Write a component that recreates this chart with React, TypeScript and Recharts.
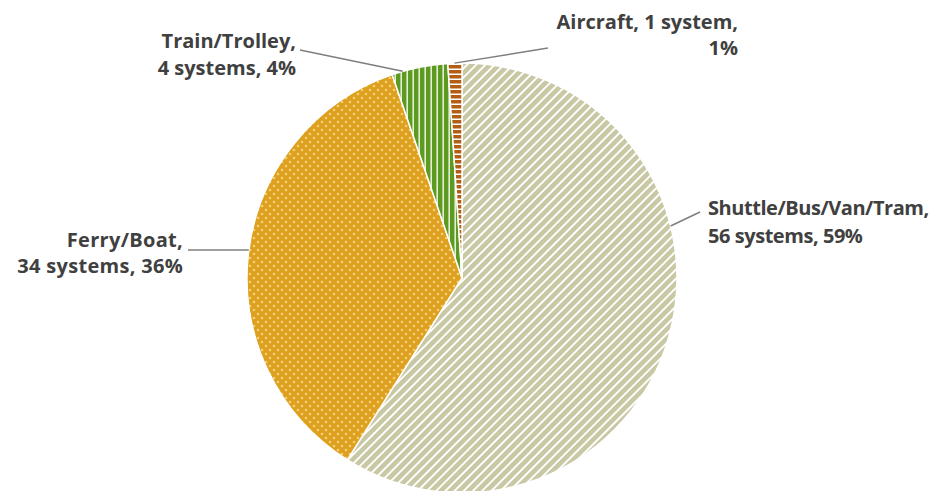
import React from 'react';
import { PieChart, Pie, Cell } from 'recharts';

const modes = ['Shuttle/Bus/Van/Tram', 'Ferry/Boat', 'Train/Trolley', 'Aircraft'];
const systems = [56, 34, 4, 1];
const percents = ['59%', '36%', '4%', '1%'];

const data = modes.map((name, i) => ({ name, value: systems[i], pct: percents[i] }));

const FILLS = ['url(#pShuttle)', 'url(#pFerry)', 'url(#pTrain)', 'url(#pAir)'];

// label placement relative to pie centre (Excel-style manual placement)
// edge: angle on rim, clockwise from 12 o'clock; end: leader line end; rows: text + baseline
const LABEL_LAYOUT = [
  { edge: 76, end: [238, -66], anchor: 'start', x: 246, ls: -0.45, rows: [['Shuttle/Bus/Van/Tram,', -63], ['56 systems, 59%', -35]] },
  { edge: 277.5, end: [-274, -28], anchor: 'end', x: -279, ls: 0.3, rows: [['Ferry/Boat,', -31], ['34 systems, 36%', -5]] },
  { edge: 344, end: [-162, -228], anchor: 'end', x: -166, ls: 0, rows: [['Train/Trolley,', -230], ['4 systems, 4%', -203]] },
  { edge: 358, end: [86, -230], anchor: 'end', x: 276, ls: 0, rows: [['Aircraft, 1 system,', -249], ['1%', -223]] },
];

const renderLabel = (props: any) => {
  const { cx, cy, outerRadius, index } = props;
  const l = LABEL_LAYOUT[index];
  const rad = (l.edge * Math.PI) / 180;
  const sx = cx + outerRadius * Math.sin(rad);
  const sy = cy - outerRadius * Math.cos(rad);
  return (
    <g key={`lbl-${index}`}>
      <line x1={sx} y1={sy} x2={cx + l.end[0]} y2={cy + l.end[1]} stroke="#7f7f7f" strokeWidth={1.5} />
      {l.rows.map(([t, dy]: any, j: number) => (
        <text
          key={j}
          x={cx + l.x}
          y={cy + dy}
          textAnchor={l.anchor}
          fill="#404040"
          fontSize={20}
          fontWeight={700}
          letterSpacing={l.ls}
          fontFamily="'Open Sans', sans-serif"
        >
          {t}
        </text>
      ))}
    </g>
  );
};

export default function App() {
  return (
    <div style={{ position: 'absolute', left: 0, top: 0, background: '#fff' }}>
      <PieChart width={935} height={491} margin={{ top: 0, right: 0, bottom: 0, left: 0 }}>
        <defs>
          <pattern id="pShuttle" patternUnits="userSpaceOnUse" width="6.5" height="6.5" patternTransform="rotate(45)">
            <rect width="6.5" height="6.5" fill="#ffffff" />
            <rect width="4.6" height="6.5" fill="#c9c8a4" />
          </pattern>
          <pattern id="pFerry" patternUnits="userSpaceOnUse" width="8" height="8">
            <rect width="8" height="8" fill="#dea11f" />
            <circle cx="2" cy="2" r="1.3" fill="#f3cf78" />
            <circle cx="6" cy="6" r="1.3" fill="#f3cf78" />
          </pattern>
          <pattern id="pTrain" patternUnits="userSpaceOnUse" width="6" height="6">
            <rect width="6" height="6" fill="#e4efd2" />
            <rect width="4.4" height="6" fill="#5c9a22" />
          </pattern>
          <pattern id="pAir" patternUnits="userSpaceOnUse" width="5" height="5">
            <rect width="5" height="5" fill="#ffffff" />
            <rect width="5" height="3.5" fill="#b25e14" />
          </pattern>
        </defs>
        <Pie
          data={data}
          dataKey="value"
          nameKey="name"
          cx={462}
          cy={278}
          outerRadius={215}
          startAngle={90}
          endAngle={-270}
          stroke="#ffffff"
          strokeWidth={1.5}
          label={renderLabel}
          labelLine={false}
          isAnimationActive={false}
        >
          {data.map((d, i) => (
            <Cell key={d.name} fill={FILLS[i]} />
          ))}
        </Pie>
      </PieChart>
    </div>
  );
}
